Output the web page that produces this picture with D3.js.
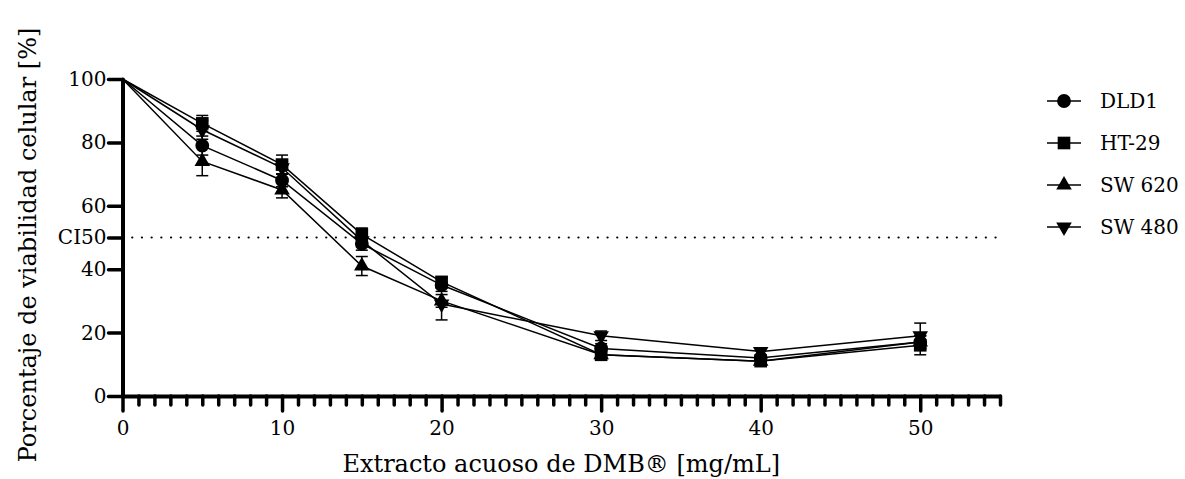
<!DOCTYPE html>
<html>
  <head>
    <meta http-equiv="Content-Type" content="text/html;charset=utf-8"/>
    <style type="text/css">

body {
  margin: 0;
  background: #fff;
}

svg, svg text, .axis {
  font-family: "DejaVu Serif", serif;
}

.axis text {
  font-size: 20px;
  fill: #000;
}

.axis path, .axis line {
  stroke: #000;
  fill: none;
}

.series path.link {
  fill: none;
  stroke: #000;
  stroke-width: 1.5px;
}

.err line {
  stroke: #000;
  stroke-width: 1.5px;
}

.legend text {
  font-size: 20px;
}

    </style>
  </head>
  <body>
    <svg></svg>

    <script type="text/javascript" src="https://cdn.jsdelivr.net/npm/d3@7"></script>

    <script type="text/javascript">

// concentraciones [mg/mL]
var dose = [0, 5, 10, 15, 20, 30, 40, 50];

var lines = ["DLD1", "HT-29", "SW 620", "SW 480"];

var dld1   = [100, 79, 68, 48, 35, 15, 12, 17],
    dld1E  = [0, 3, 2, 2, 2, 1.5, 1, 2];
var ht29   = [100, 86, 73, 51, 36, 13, 11, 16],
    ht29E  = [0, 2.5, 3, 2, 1.5, 1, 1, 3];
var sw620  = [100, 74, 65, 41, 30, 13, 11, 17],
    sw620E = [0, 4.5, 2.5, 3, 2, 1, 1, 2];
var sw480  = [100, 84, 72, 49, 29, 19, 14, 19],
    sw480E = [0, 3, 2, 2, 5, 1.5, 1, 4];

var yTicks = [0, 20, 40, 50, 60, 80, 100];
var xTicks = [0, 10, 20, 30, 40, 50];
var ci50 = 50;

var W = 1185, H = 479;

var svg = d3.select("svg")
    .attr("width", W)
    .attr("height", H)
    .attr("font-family", "DejaVu Serif");

var x = d3.scaleLinear().domain([0, 55]).range([122.5, 1000]);
var y = d3.scaleLinear().domain([0, 100]).range([396, 79]);

var series = [
  {name: lines[0], v: dld1,  e: dld1E,  sym: d3.symbolCircle,   size: 150, rot: 0},
  {name: lines[1], v: ht29,  e: ht29E,  sym: d3.symbolSquare,   size: 160, rot: 0},
  {name: lines[2], v: sw620, e: sw620E, sym: d3.symbolTriangle, size: 105, rot: 0},
  {name: lines[3], v: sw480, e: sw480E, sym: d3.symbolTriangle, size: 105, rot: 180}
];

// CI50 dotted line
svg.append("line")
    .attr("x1", x(0)).attr("x2", x(55))
    .attr("y1", y(ci50)).attr("y2", y(ci50))
    .attr("stroke", "#000")
    .attr("stroke-width", 2.2)
    .attr("stroke-linecap", "round")
    .attr("stroke-dasharray", "0.1,9.6");

var line = d3.line()
    .x(function(d) { return x(d[0]); })
    .y(function(d) { return y(d[1]); });

var g = svg.selectAll("g.series")
    .data(series)
  .enter().append("g")
    .attr("class", "series");

g.append("path")
    .attr("class", "link")
    .attr("d", function(s) { return line(dose.map(function(c, i) { return [c, s.v[i]]; })); });

// error bars
g.each(function(s) {
  var eg = d3.select(this).append("g").attr("class", "err");
  dose.forEach(function(c, i) {
    if (!s.e[i]) return;
    var cx = x(c), lo = y(s.v[i] - s.e[i]), hi = y(s.v[i] + s.e[i]);
    eg.append("line").attr("x1", cx).attr("x2", cx).attr("y1", lo).attr("y2", hi);
    eg.append("line").attr("x1", cx - 6).attr("x2", cx + 6).attr("y1", lo).attr("y2", lo);
    eg.append("line").attr("x1", cx - 6).attr("x2", cx + 6).attr("y1", hi).attr("y2", hi);
  });
});

g.each(function(s) {
  var sym = d3.symbol().type(s.sym).size(s.size);
  d3.select(this).selectAll("path.mk")
      .data(dose.map(function(c, i) { return [c, s.v[i]]; }).filter(function(d) { return d[0] > 0; }))
    .enter().append("path")
      .attr("class", "mk")
      .attr("d", sym)
      .attr("fill", "#000")
      .attr("transform", function(d) { return "translate(" + x(d[0]) + "," + y(d[1]) + ") rotate(" + s.rot + ")"; });
});

// x axis: minor ticks first, then major
var minor = d3.range(1, 56).filter(function(v) { return v % 10 !== 0; });

svg.append("g")
    .attr("class", "axis minor")
    .attr("transform", "translate(0," + y(0) + ")")
    .call(d3.axisBottom(x).tickValues(minor).tickSize(9).tickFormat("").tickSizeOuter(0))
    .call(function(a) { a.select(".domain").remove(); })
    .selectAll("line")
    .attr("stroke-width", 3.5)
    .attr("stroke-linecap", "round");

var xa = svg.append("g")
    .attr("class", "axis")
    .attr("transform", "translate(0," + y(0) + ")")
    .call(d3.axisBottom(x).tickValues(xTicks).tickSize(15).tickPadding(10).tickSizeOuter(0));
xa.attr("font-family", null).attr("font-size", null);
xa.select(".domain").attr("stroke-width", 4);
xa.selectAll("line").attr("stroke-width", 3.5).attr("stroke-linecap", "round");

var ya = svg.append("g")
    .attr("class", "axis")
    .attr("transform", "translate(" + x(0) + ",0)")
    .call(d3.axisLeft(y).tickValues(yTicks).tickSize(14).tickPadding(2).tickSizeOuter(0)
      .tickFormat(function(d) { return d === ci50 ? "CI50" : d; }));
ya.attr("font-family", null).attr("font-size", null);
ya.select(".domain").attr("stroke-width", 4).attr("stroke-linecap", "round");
ya.selectAll("line").attr("stroke-width", 3.5).attr("stroke-linecap", "round");

// axis titles
svg.append("text")
    .attr("x", (x(0) + x(55)) / 2)
    .attr("y", 472)
    .attr("text-anchor", "middle")
    .attr("font-size", 24)
    .text("Extracto acuoso de DMB® [mg/mL]");

svg.append("text")
    .attr("transform", "translate(36," + 245 + ") rotate(-90)")
    .attr("text-anchor", "middle")
    .attr("font-size", 24)
    .text("Porcentaje de viabilidad celular [%]");

// legend
var legend = svg.selectAll("g.legend")
    .data(series)
  .enter().append("g")
    .attr("class", "legend")
    .attr("transform", function(d, i) { return "translate(1064," + (101 + i * 42) + ")"; });

legend.append("line")
    .attr("x1", -17).attr("x2", 17)
    .attr("stroke", "#000")
    .attr("stroke-width", 1.5);

legend.append("path")
    .attr("d", function(s) { return d3.symbol().type(s.sym).size(s.size)(); })
    .attr("transform", function(s) { return "rotate(" + s.rot + ")"; })
    .attr("fill", "#000");

legend.append("text")
    .attr("x", 36)
    .attr("dy", ".35em")
    .attr("font-family", "DejaVu Serif")
    .text(function(s) { return s.name; });

    </script>
  </body>
</html>
